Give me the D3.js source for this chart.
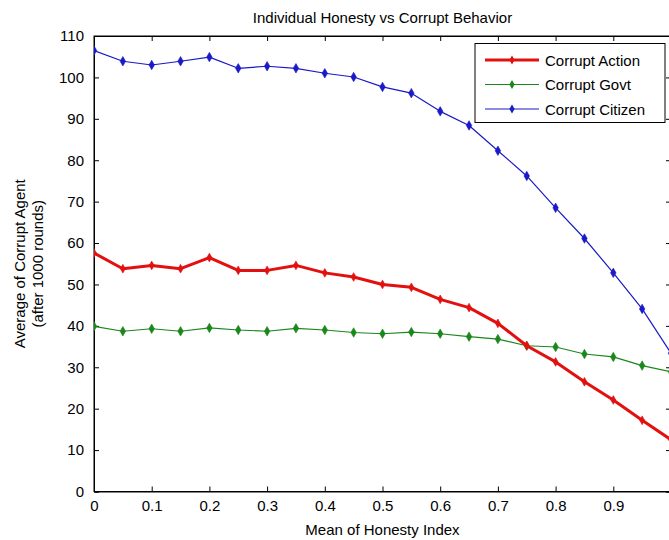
<!DOCTYPE html>
<html><head><meta charset="utf-8">
<script src="https://cdn.jsdelivr.net/npm/d3@7"></script>
<style>
html,body{margin:0;padding:0;background:#fff;overflow:hidden;}
text{font-family:Arial,"Liberation Sans",Helvetica,sans-serif;fill:#000;}
</style></head>
<body>
<svg id="chart" width="669" height="540"></svg>
<script>
const xValues = [0,0.05,0.1,0.15,0.2,0.25,0.3,0.35,0.4,0.45,0.5,0.55,0.6,0.65,0.7,0.75,0.8,0.85,0.9,0.95,1.0];
const corruptAction = [57.6,53.8,54.6,53.8,56.5,53.4,53.4,54.6,52.8,51.8,50.0,49.3,46.4,44.4,40.6,35.2,31.3,26.5,22.1,17.2,12.5];
const corruptGovt = [39.9,38.7,39.3,38.7,39.5,39.0,38.7,39.4,39.0,38.4,38.1,38.5,38.1,37.4,36.8,35.2,34.9,33.2,32.5,30.4,28.9];
const corruptCitizen = [106.5,103.9,103.0,103.9,104.9,102.2,102.7,102.2,101.0,100.1,97.7,96.2,91.8,88.4,82.3,76.2,68.5,61.1,52.8,44.1,33.4];
const xTicks = [0,0.1,0.2,0.3,0.4,0.5,0.6,0.7,0.8,0.9,1];
const xTickLabels = ["0","0.1","0.2","0.3","0.4","0.5","0.6","0.7","0.8","0.9",""];
const yTicks = [0,10,20,30,40,50,60,70,80,90,100,110];
const seriesNames = ["Corrupt Action","Corrupt Govt","Corrupt Citizen"];
const seriesColors = ["#e31010","#1b871b","#1a1ac8"];
const seriesWidths = [3,1.2,1.2];
const titleText = "Individual Honesty vs Corrupt Behavior";
const xLabel = "Mean of Honesty Index";
const yLabelLines = ["Average of Corrupt Agent","(after 1000 rounds)"];

const svg = d3.select("#chart");
const L = 94, R = 671, T = 36, B = 491.5;
const x = d3.scaleLinear().domain([0,1]).range([L,R]);
const y = d3.scaleLinear().domain([0,110]).range([B,T]);
const tl = 5;

svg.append("rect").attr("x",L).attr("y",T).attr("width",R-L).attr("height",B-T)
  .attr("fill","#fff").attr("stroke","#000").attr("stroke-width",1);

const xAxisB = d3.axisBottom(x).tickValues(xTicks).tickSize(-tl).tickPadding(9)
  .tickFormat((d,i)=>xTickLabels[i]);
const gxb = svg.append("g").attr("transform",`translate(0,${B})`).call(xAxisB);
const xAxisT = d3.axisTop(x).tickValues(xTicks).tickSize(-tl).tickFormat("");
const gxt = svg.append("g").attr("transform",`translate(0,${T})`).call(xAxisT);
const yAxisL = d3.axisLeft(y).tickValues(yTicks).tickSize(-tl).tickPadding(10).tickFormat(d3.format("d"));
const gyl = svg.append("g").attr("transform",`translate(${L},0)`).call(yAxisL);
const yAxisR = d3.axisRight(y).tickValues(yTicks).tickSize(-tl).tickFormat("");
const gyr = svg.append("g").attr("transform",`translate(${R},0)`).call(yAxisR);
[gxb,gxt,gyl,gyr].forEach(g=>{
  g.select(".domain").attr("stroke","#000");
  g.selectAll(".tick line").attr("stroke","#000");
  g.selectAll("text").style("font-size","15px").attr("fill","#000");
});
gxb.selectAll("text").attr("dy","0.71em");

const data = [corruptAction, corruptGovt, corruptCitizen];
const line = d3.line().x((d,i)=>x(xValues[i])).y(d=>y(d));
svg.append("clipPath").attr("id","clip").append("rect").attr("x",L).attr("y",T-5).attr("width",R-L+5).attr("height",B-T+10);
const plot = svg.append("g").attr("clip-path","url(#clip)");
const order = [1,0,2];
order.forEach(k=>{
  plot.append("path").datum(data[k]).attr("d",line).attr("fill","none")
    .attr("stroke",seriesColors[k]).attr("stroke-width",seriesWidths[k]).attr("stroke-linejoin","round");
  plot.selectAll(null).data(data[k]).enter().append("path")
    .attr("d",d3.symbol(d3.symbolDiamond, k===0?22:26))
    .attr("transform",(d,i)=>`translate(${x(xValues[i])},${y(d)})`)
    .attr("fill",seriesColors[k]).attr("stroke",seriesColors[k]).attr("stroke-width",0.6);
});

svg.append("text").attr("x",(L+R)/2).attr("y",23).attr("text-anchor","middle")
  .style("font-size","15px").text(titleText);
svg.append("text").attr("x",(L+R)/2).attr("y",535).attr("text-anchor","middle")
  .style("font-size","15px").text(xLabel);
yLabelLines.forEach((t,i)=>{
  svg.append("text").attr("transform",`translate(${25+i*18},${(T+B)/2}) rotate(-90)`)
    .attr("text-anchor","middle").style("font-size","15px").text(t);
});

const lg = svg.append("g");
lg.append("rect").attr("x",475).attr("y",43.5).attr("width",190).attr("height",79)
  .attr("fill","#fff").attr("stroke","#000").attr("stroke-width",1);
seriesNames.forEach((n,i)=>{
  const yy = 60 + i*24.5;
  lg.append("line").attr("x1",485).attr("x2",539).attr("y1",yy).attr("y2",yy)
    .attr("stroke",seriesColors[i]).attr("stroke-width",seriesWidths[i]);
  lg.append("path").attr("d",d3.symbol(d3.symbolDiamond, 24)).attr("transform",`translate(512,${yy})`)
    .attr("fill",seriesColors[i]);
  lg.append("text").attr("x",545).attr("y",yy+5.5).style("font-size","15px").text(n);
});
</script>
</body></html>
